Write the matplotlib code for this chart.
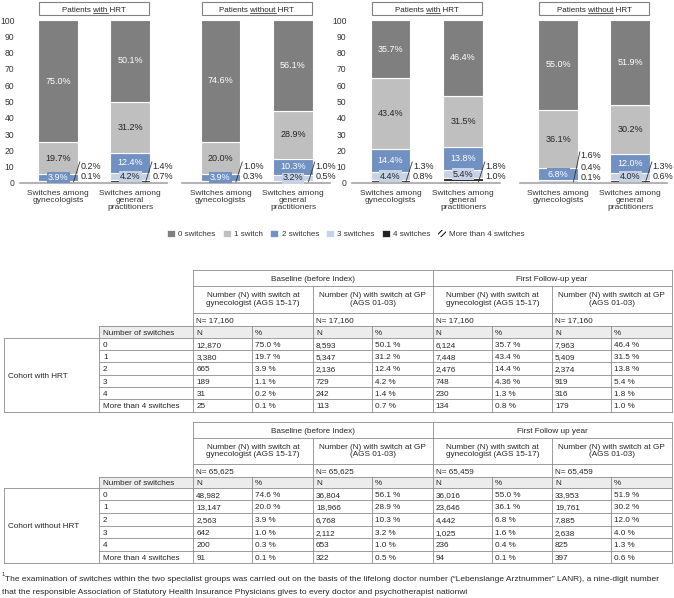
import numpy as np
import matplotlib
matplotlib.use('Agg')
import matplotlib.pyplot as plt
from matplotlib.patches import Rectangle, Patch
from matplotlib.font_manager import FontProperties

plt.rcParams['font.family'] = ['Liberation Sans', 'DejaVu Sans']
plt.rcParams['hatch.linewidth'] = 0.7

W, H = 674, 598

# ---------------------------
# Data
# ---------------------------
legend_labels = ['0 switches', '1 switch', '2 switches', '3 switches', '4 switches', 'More than 4 switches']
row_labels = ['0', '1', '2', '3', '4', 'More than 4 switches']
bar_labels = ['Switches among\ngynecologists', 'Switches among\ngeneral\npractitioners']

# columns: gyn baseline, GP baseline, gyn follow-up, GP follow-up
hrt_total = [17160, 17160, 17160, 17160]
hrt_n = [[12870, 3380, 665, 189, 31, 25],
         [8593, 5347, 2136, 729, 242, 113],
         [6124, 7448, 2476, 748, 230, 134],
         [7963, 5409, 2374, 919, 316, 179]]
hrt_pct = [[75.0, 19.7, 3.9, 1.1, 0.2, 0.1],
           [50.1, 31.2, 12.4, 4.2, 1.4, 0.7],
           [35.7, 43.4, 14.4, 4.36, 1.3, 0.8],
           [46.4, 31.5, 13.8, 5.4, 1.8, 1.0]]

nohrt_total = [65625, 65625, 65459, 65459]
nohrt_n = [[48982, 13147, 2563, 642, 200, 91],
           [36804, 18966, 6768, 2112, 653, 322],
           [36016, 23646, 4442, 1025, 236, 94],
           [33953, 19761, 7885, 2638, 825, 397]]
nohrt_pct = [[74.6, 20.0, 3.9, 1.0, 0.3, 0.1],
             [56.1, 28.9, 10.3, 3.2, 1.0, 0.5],
             [55.0, 36.1, 6.8, 1.6, 0.4, 0.1],
             [51.9, 30.2, 12.0, 4.0, 1.3, 0.6]]

# which segments are labelled outside the bar (per panel, per bar)
outside = [[[4, 5], [4, 5]],
           [[3, 4], [4, 5]],
           [[4, 5], [4, 5]],
           [[3, 4, 5], [4, 5]]]

# title: (before, underlined word, after)
panel_titles = [('Patients ', 'with', ' HRT'),
                ('Patients ', 'without', ' HRT'),
                ('Patients ', 'with', ' HRT'),
                ('Patients ', 'without', ' HRT')]
panel_data = [[hrt_pct[0], hrt_pct[1]],
              [nohrt_pct[0], nohrt_pct[1]],
              [hrt_pct[2], hrt_pct[3]],
              [nohrt_pct[2], nohrt_pct[3]]]

seg_colors = ['#7f7f7f', '#bfbfbf', '#7191c2', '#c6d2e6', '#222222', 'white']
text_colors = ['white', '#262626', 'white', '#262626']

# ---------------------------
# Figure
# ---------------------------
fig = plt.figure(figsize=(W / 100, H / 100), dpi=100)
renderer = fig.canvas.get_renderer()

# overlay in pixel coords for tables / footnote / titles
tab = fig.add_axes([0, 0, 1, 1])
tab.set_xlim(0, W)
tab.set_ylim(H, 0)
tab.axis('off')

panel_px = [(20, 167), (182, 330), (352, 500), (520, 667)]
y_top, y_bot = 20, 183
bw = 0.55
x0, x1 = -0.53, 1.51
xs = np.array([0, 1])
title_fp = FontProperties(family='Liberation Sans', size=5.8)


def txt_w(s):
    w, h, d = renderer.get_text_width_height_descent(s, title_fp, ismath=False)
    return w


for p in range(4):
    l, r = panel_px[p]
    ax = fig.add_axes([l / W, 1 - y_bot / H, (r - l) / W, (y_bot - y_top) / H])
    ax.set_xlim(x0, x1)
    ax.set_ylim(0, 100)
    pcts = panel_data[p]
    for k in range(5, -1, -1):
        hts = [pcts[b][k] for b in range(2)]
        bots = [sum(pcts[b][k + 1:]) for b in range(2)]
        if k == 5:
            ax.bar(xs, hts, bw, bottom=bots, color='white', edgecolor='black',
                   hatch='//////', linewidth=0)
        else:
            ax.bar(xs, hts, bw, bottom=bots, color=seg_colors[k], edgecolor='white',
                   linewidth=0.8)
        for b in range(2):
            if k in outside[p][b]:
                continue
            if k <= 2 or (k == 3 and hts[b] >= 2):
                ax.text(xs[b], bots[b] + hts[b] / 2, f'{hts[b]:.1f}%', ha='center', va='center',
                        fontsize=6.5, color=text_colors[k],
                        bbox=dict(boxstyle='square,pad=0.12', fc=seg_colors[k], ec='none'))
    # outside labels with leader line
    for b in range(2):
        outs = outside[p][b]
        ys = [10.4, 3.7] if len(outs) == 2 else [16.6, 9.8, 3.1]
        ax.plot([xs[b] + 0.21, xs[b] + 0.3], [0.3, ys[0] + 2.5], color='#333333', lw=0.6,
                clip_on=False)
        for k, yv in zip(outs, ys):
            ax.text(xs[b] + 0.31, yv, f'{pcts[b][k]:.1f}%', ha='left', va='center',
                    fontsize=6.5, color='#262626')

    ax.set_xticks(xs)
    ax.set_xticklabels(bar_labels, fontsize=6, color='#333333', linespacing=1.05)
    ax.tick_params(axis='x', length=0, pad=5)
    if p in (0, 2):
        ax.set_yticks(range(0, 101, 10))
        ax.tick_params(axis='y', length=0, labelsize=6.2, labelcolor='#333333', pad=4)
    else:
        ax.set_yticks([])
    for s in ('top', 'right', 'left'):
        ax.spines[s].set_visible(False)
    ax.spines['bottom'].set_color('#a6a6a6')
    ax.spines['bottom'].set_linewidth(1.2)

    # title box (pixel coords)
    to_px = lambda v: l + (v - x0) / (x1 - x0) * (r - l)
    bx0, bx1 = to_px(-bw / 2) + 1, to_px(1 + bw / 2) - 1
    tab.add_patch(Rectangle((bx0, 2), bx1 - bx0, 13, fill=False, ec='#808080', lw=0.8))
    pre, und, post = panel_titles[p]
    full = pre + und + post
    wf = txt_w(full)
    start = (bx0 + bx1) / 2 - wf / 2
    u1 = start + txt_w(pre + und)
    u0 = u1 - txt_w(und)
    tab.text(start, 11.5, full, ha='left', va='baseline', fontproperties=title_fp,
             color='#262626')
    tab.plot([u0, u1], [12.6, 12.6], color='#262626', lw=0.5)

# legend
leg_handles = []
for k in range(6):
    if k == 5:
        leg_handles.append(Patch(facecolor='white', edgecolor='black', hatch='//////', linewidth=0))
    else:
        leg_handles.append(Patch(facecolor=seg_colors[k], edgecolor='white', linewidth=0.5))
fig.legend(leg_handles, legend_labels, loc='center', bbox_to_anchor=(346 / W, 1 - 234 / H),
           ncol=6, frameon=False, fontsize=5.8, handlelength=1.0, handleheight=1.0,
           columnspacing=0.9, handletextpad=0.4, labelcolor='#333333')

# ---------------------------
# Tables
# ---------------------------
cx = [4, 99, 193.3, 252, 313, 372, 432.5, 492, 552, 611, 671.7]
lc = '#8c8c8c'
tlw = 0.6
fs = 5.9
tc = '#262626'
bl = 2.9  # baseline offset below cell centre, px


def cell_text(x, yc, s):
    tab.text(x, yc + bl, s, ha='left', va='baseline', fontsize=fs, color=tc)


def draw_table(rows, data_bot, follow_label, totals, ncols, pcols, cohort):
    y0, y1, y2, y3, y4 = rows
    xl, xr = cx[2], cx[-1]
    tab.add_patch(Rectangle((cx[1], y3), xr - cx[1], y4 - y3, fc='#ececec', ec='none'))
    nrow = len(row_labels)
    dh = (data_bot - y4) / nrow
    for y in (y0, y1, y2):
        tab.plot([xl, xr], [y, y], color=lc, lw=tlw)
    tab.plot([cx[1], xr], [y3, y3], color=lc, lw=tlw)
    tab.plot([cx[0], xr], [y4, y4], color=lc, lw=tlw)
    for i in range(1, nrow):
        tab.plot([cx[1], xr], [y4 + i * dh] * 2, color=lc, lw=tlw)
    tab.plot([cx[0], xr], [data_bot, data_bot], color=lc, lw=tlw)
    for x in (cx[2], cx[6], cx[10]):
        tab.plot([x, x], [y0, data_bot], color=lc, lw=tlw)
    for x in (cx[4], cx[8]):
        tab.plot([x, x], [y1, data_bot], color=lc, lw=tlw)
    for x in (cx[1], cx[3], cx[5], cx[7], cx[9]):
        tab.plot([x, x], [y3, data_bot], color=lc, lw=tlw)
    tab.plot([cx[0], cx[0]], [y4, data_bot], color=lc, lw=tlw)
    tab.text((cx[2] + cx[6]) / 2, (y0 + y1) / 2 + bl, 'Baseline (before Index)', ha='center',
             va='baseline', fontsize=fs, color=tc)
    tab.text((cx[6] + cx[10]) / 2, (y0 + y1) / 2 + bl, follow_label, ha='center', va='baseline',
             fontsize=fs, color=tc)
    subs = ['Number (N) with switch at\ngynecologist (AGS 15-17)',
            'Number (N) with switch at GP\n(AGS 01-03)']
    for j in range(4):
        xa, xb = cx[2 + 2 * j], cx[4 + 2 * j]
        tab.text((xa + xb) / 2, (y1 + y2) / 2, subs[j % 2], ha='center', va='center',
                 fontsize=fs, color=tc, linespacing=1.15)
        cell_text(xa + 3, (y2 + y3) / 2, f'N= {totals[j]:,}')
        cell_text(xa + 3, (y3 + y4) / 2, 'N')
        cell_text(cx[3 + 2 * j] + 3, (y3 + y4) / 2, '%')
        for i in range(nrow):
            yc = y4 + (i + 0.5) * dh
            cell_text(xa + 3, yc, f'{ncols[j][i]:,}')
            cell_text(cx[3 + 2 * j] + 3, yc, f'{pcols[j][i]} %')
    cell_text(cx[1] + 4, (y3 + y4) / 2, 'Number of switches')
    for i in range(nrow):
        cell_text(cx[1] + 4, y4 + (i + 0.5) * dh, row_labels[i])
    cell_text(cx[0] + 4, (y4 + data_bot) / 2, cohort)


draw_table([270, 286, 312.5, 326, 337.7], 411.7, 'First Follow-up year', hrt_total, hrt_n,
           hrt_pct, 'Cohort with HRT')
draw_table([422.3, 437.7, 464.3, 476.7, 487.7], 563.3, 'First Follow up year', nohrt_total,
           nohrt_n, nohrt_pct, 'Cohort without HRT')

# footnote
tab.text(2, 576, '1', ha='left', va='baseline', fontsize=4.2, color=tc)
tab.text(5, 581, 'The examination of switches within the two specialist groups was carried out on '
         'the basis of the lifelong doctor number (\u201cLebenslange Arztnummer\u201d LANR), '
         'a nine-digit number', ha='left', va='baseline', fontsize=6.05, color=tc)
tab.text(2, 593.5, 'that the responsible Association of Statutory Health Insurance Physicians '
         'gives to every doctor and psychotherapist nationwi', ha='left', va='baseline',
         fontsize=6.05, color=tc)

fig.savefig('out.png', dpi=100)
